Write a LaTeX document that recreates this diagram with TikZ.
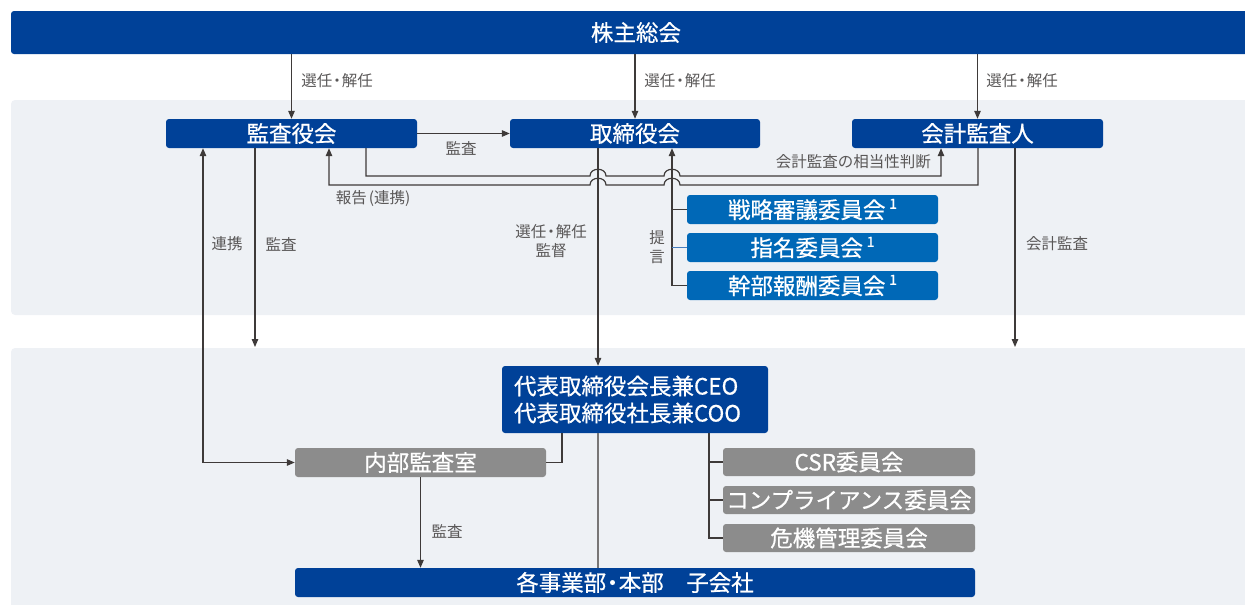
\documentclass[tikz,border=0pt]{standalone}
\usepackage{fontspec}
\setmainfont{Noto Sans CJK JP}
\newfontfamily\jpbox[FakeBold=0.6]{Noto Sans CJK JP}
\usetikzlibrary{arrows.meta,calc}
\definecolor{dblue}{RGB}{0,65,152}
\definecolor{mblue}{RGB}{0,104,183}
\definecolor{bgray}{RGB}{140,140,140}
\definecolor{panel}{RGB}{238,241,245}
\definecolor{lcol}{RGB}{62,58,57}
\definecolor{lgray}{RGB}{120,118,118}
\definecolor{tcol}{RGB}{89,87,87}
\definecolor{bline}{RGB}{70,125,190}
\tikzset{
  box/.style={rectangle, rounded corners=3pt, minimum height=29pt, text=white, inner sep=0pt,
    font=\jpbox\fontsize{22.5}{27}\selectfont},
  darkbox/.style={box, fill=dblue},
  combox/.style={box, fill=mblue, minimum width=251pt},
  graybox/.style={box, fill=bgray, minimum width=252pt, minimum height=28pt},
  conn/.style={draw=lcol, line width=1.2pt},
  arr/.style={conn, -{Triangle[length=8pt,width=6.5pt]}},
  darr/.style={conn, {Triangle[length=8pt,width=6.5pt]}-{Triangle[length=8pt,width=6.5pt]}},
  lbl/.style={text=tcol, inner sep=0pt, font=\fontsize{15.5}{19}\selectfont, align=center},
}
\newcommand{\supone}{\,\raisebox{0.42em}{\fontsize{14}{14}\selectfont 1}}
\newcommand{\ndot}{\kern-3pt・\kern-3pt}
\newcommand{\bdot}{\kern-5pt・\kern-5pt}
\begin{document}
\begin{tikzpicture}[x=1pt,y=-1pt]
\useasboundingbox (0,0) rectangle (1245,605);
% panels
\fill[panel, rounded corners=4pt] (11,100) rectangle (1262,315);
\fill[panel, rounded corners=4pt] (11,348) rectangle (1262,620);
% nodes
\node[darkbox, minimum width=1250pt, minimum height=43pt] (top) at (636,32.5) {株主総会};
\node[darkbox, minimum width=251pt] (kansa) at (291.5,133.5) {監査役会};
\node[darkbox, minimum width=250pt] (board) at (635,133.5) {取締役会};
\node[darkbox, minimum width=251pt] (auditor) at (977.5,133.5) {会計監査人};
\node[combox] (strat) at (812.5,209.5) {戦略審議委員会\supone};
\node[combox] (nom) at (812.5,247.5) {指名委員会\supone};
\node[combox] (comp) at (812.5,285.5) {幹部報酬委員会\supone};
\node[darkbox, minimum width=266pt, minimum height=67pt, text width=242pt, align=left] (ceo) at (635,399.5) {代表取締役会長兼CEO\\代表取締役社長兼COO};
\node[graybox, minimum width=251pt, minimum height=29pt] (naibu) at (420.5,462.5) {内部監査室};
\node[graybox] (csr) at (849,462) {CSR委員会};
\node[graybox] (compl) at (849,500) {コンプライアンス委員会};
\node[graybox] (kiki) at (849,538) {危機管理委員会};
\node[darkbox, minimum width=680pt] (bu) at (635,582.5) {各事業部\bdot 本部　子会社};
\coordinate (kansaEnd) at (255,347);
\coordinate (auditEnd) at (1015,347);
% top arrows
\draw[arr] (kansa.north |- top.south) -- (kansa.north);
\draw[arr] (board.north |- top.south) -- (board.north);
\draw[arr] (auditor.north |- top.south) -- (auditor.north);
\node[lbl] at (337,81) {選任\ndot 解任};
\node[lbl] at (680,81) {選任\ndot 解任};
\node[lbl] at (1022,81) {選任\ndot 解任};
% kansa -> board
\draw[arr] (kansa.east) -- (board.west);
\node[lbl] at (461,148) {監査};
% verticals from board
\draw[arr] ([xshift=-37pt]board.south) -- ([xshift=-37pt]ceo.north);
\draw[arr] (comp.west) -| ([xshift=37pt]board.south);
\draw[conn] (strat.west) -- ++(-15,0);
\draw[draw=bline, line width=1.2pt] (nom.west) -- ++(-15,0);
\node[lbl] at (657,247) {提\\言};
\node[lbl] at (551,241) {選任\ndot 解任\\監督};
% hop lines
\draw[arr] ([xshift=74.5pt]kansa.south) |- (590,176)
  .. controls (590,167) and (606,167) .. (606,176) -- (664,176)
  .. controls (664,167) and (680,167) .. (680,176) -| ([xshift=-36.5pt]auditor.south);
\node[lbl, anchor=east] at (931,162) {会計監査の相当性判断};
\draw[arr] ([xshift=0.5pt]auditor.south) |- (680,185)
  .. controls (680,176) and (664,176) .. (664,185) -- (606,185)
  .. controls (606,176) and (590,176) .. (590,185) -| ([xshift=37.5pt]kansa.south);
\node[lbl] at (373,198) {報告\kern2pt(連携)};
% left lines
\draw[darr] ([xshift=-88.5pt]kansa.south) |- (naibu.west);
\node[lbl] at (227,244) {連携};
\draw[arr] ([xshift=-36.5pt]kansa.south) -- (kansaEnd);
\node[lbl] at (281,244) {監査};
\draw[arr] ([xshift=37.5pt]auditor.south) -- (auditEnd);
\node[lbl] at (1057,244) {会計監査};
% lower part
\draw[conn] ([xshift=-73pt]ceo.south) |- (naibu.east);
\draw[draw=lgray, line width=1.2pt] ([xshift=-37pt]ceo.south) -- ([xshift=-37pt]bu.north);
\draw[arr] (naibu.south) -- (naibu.south |- bu.north);
\node[lbl] at (447,531) {監査};
\draw[conn] (kiki.west) -| ([xshift=74pt]ceo.south);
\draw[conn] (csr.west) -- ++(-14,0);
\draw[conn] (compl.west) -- ++(-14,0);
\end{tikzpicture}
\end{document}
